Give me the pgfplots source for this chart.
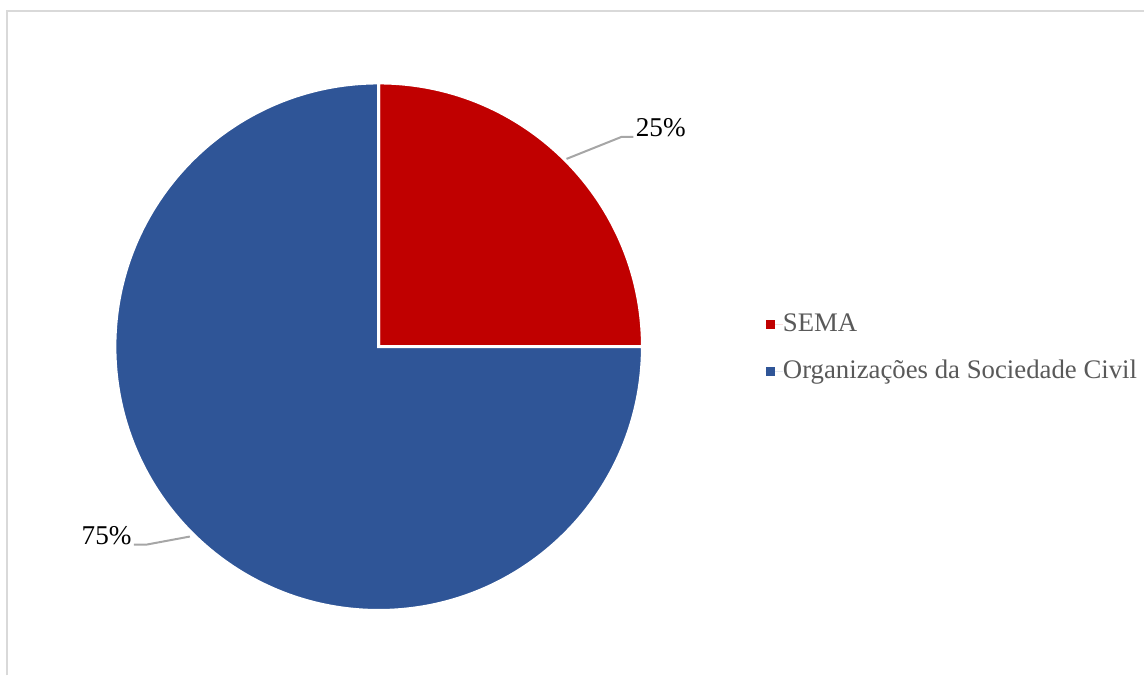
\documentclass[border=0pt]{standalone}
\usepackage{pgfplots}
\pgfplotsset{compat=1.18}
\usepackage{pgfplotstable}
\usepackage{fontspec}
\setmainfont{Liberation Serif}

\definecolor{sema}{HTML}{C00000}
\definecolor{osc}{HTML}{2F5597}
\definecolor{leader}{HTML}{A6A6A6}
\definecolor{frame}{HTML}{D9D9D9}
\definecolor{legtext}{HTML}{595959}

% share of each group (%)
\pgfplotstableread{
group value
SEMA 25
OSC 75
}\piedata

\begin{document}
\begin{tikzpicture}
\pgfplotstablegetelem{0}{value}\of\piedata \let\va\pgfplotsretval
\pgfplotstablegetelem{1}{value}\of\piedata \let\vb\pgfplotsretval
\pgfmathsetmacro\aend{90-360*\va/(\va+\vb)}
\def\R{132pt}
\begin{axis}[
    width=572.5pt, height=338pt,
    scale only axis,
    xmin=0, xmax=1145, ymin=0, ymax=676,
    y dir=reverse,
    hide axis,
    clip=false,
    legend style={
        at={(axis cs:766,348.5)}, anchor=west,
        draw=none, fill=none, inner sep=0pt,
        row sep=12pt,
        font=\fontsize{13.4pt}{15pt}\selectfont,
        text=legtext,
        nodes={inner sep=0pt, text height=9pt, text depth=2.5pt},
    },
    legend cell align=left,
    legend image code/.code={%
        \fill[#1, draw=none] (0pt,-2.3pt) rectangle (4.6pt,2.3pt);
        \path[draw=none] (0pt,0pt) -- (8.6pt,0pt);},
]
\path (axis cs:0,0) rectangle (axis cs:1145,676);
% chart frame
\draw[frame, line width=1pt] (axis cs:7,676) -- (axis cs:7,11) -- (axis cs:1145,11);

% wedges
\fill[sema, draw=white, line width=1.5pt] (axis cs:379,347) -- ++(90:\R)
    arc[start angle=90, end angle=\aend, radius=\R] -- cycle;
\fill[osc, draw=white, line width=1.5pt] (axis cs:379,347) -- ++(\aend:\R)
    arc[start angle=\aend, end angle=-270, radius=\R] -- cycle;

% leader lines and labels
\draw[leader, line width=1pt] (axis cs:567,159) -- (axis cs:622,137) -- (axis cs:634,137);
\node[anchor=base west, inner sep=0pt, font=\fontsize{13.6pt}{15pt}\selectfont]
    at (axis cs:636,137) {\va\%};
\draw[leader, line width=1pt] (axis cs:190,537) -- (axis cs:147,545) -- (axis cs:134,545);
\node[anchor=base east, inner sep=0pt, font=\fontsize{13.6pt}{15pt}\selectfont]
    at (axis cs:132,545) {\vb\%};

\addlegendimage{fill=sema}
\addlegendentry{SEMA}
\addlegendimage{fill=osc}
\addlegendentry{Organizações da Sociedade Civil}
\end{axis}
\end{tikzpicture}
\end{document}
